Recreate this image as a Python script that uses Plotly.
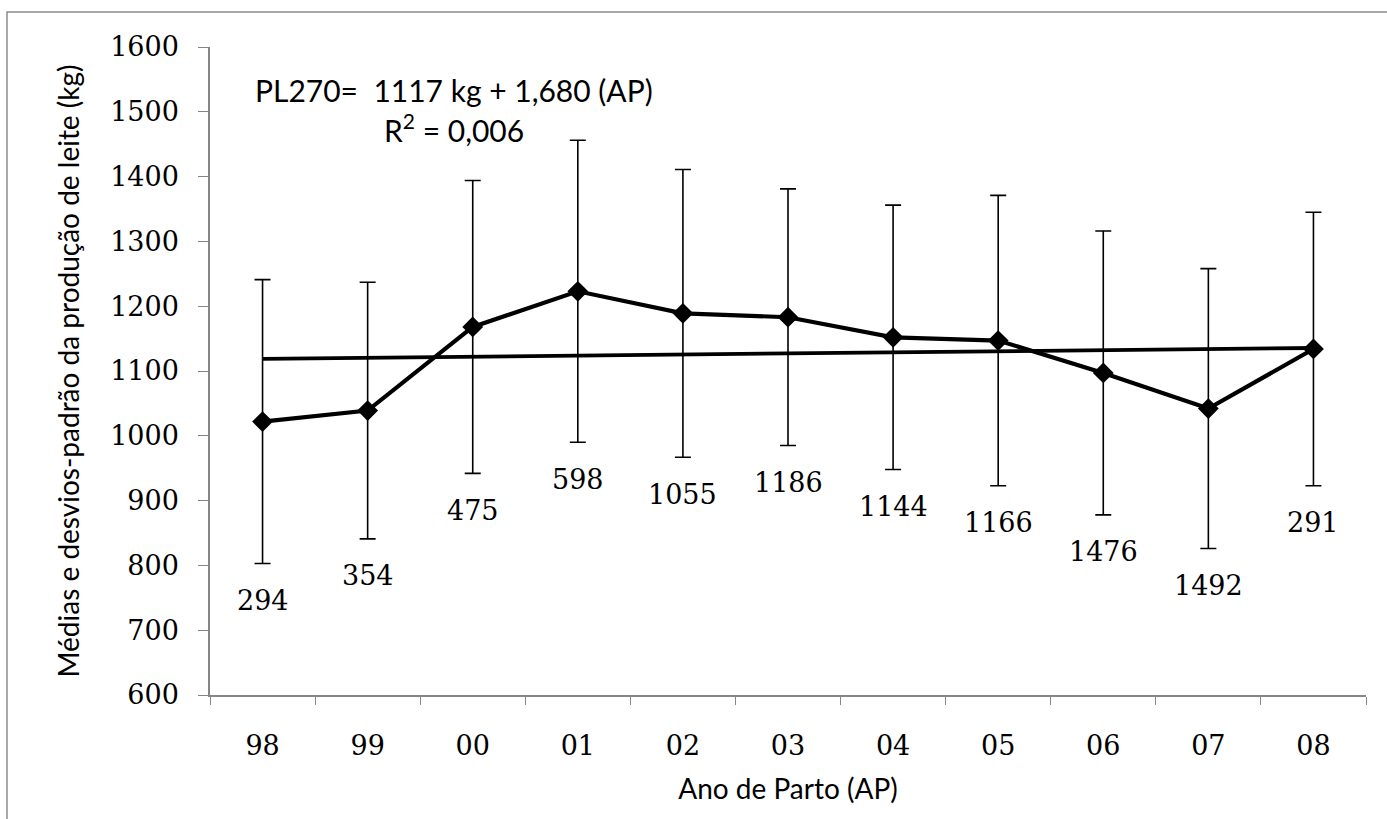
import plotly.graph_objects as go

years = ["98", "99", "00", "01", "02", "03", "04", "05", "06", "07", "08"]
means = [1022, 1039, 1168, 1223, 1189, 1183, 1152, 1147, 1097, 1042, 1134]
sds = [219, 198, 226, 233, 222, 198, 204, 224, 219, 216, 211]
counts = [294, 354, 475, 598, 1055, 1186, 1144, 1166, 1476, 1492, 291]
trend_intercept = 1117
trend_slope = 1.680
y_ticks = [600, 700, 800, 900, 1000, 1100, 1200, 1300, 1400, 1500, 1600]

trend = [trend_intercept + trend_slope * (i + 1) for i in range(len(years))]
lows = [m - s for m, s in zip(means, sds)]

SERIF = "DejaVu Serif"
SANS = "Lato"

fig = go.Figure()
fig.add_trace(go.Scatter(
    x=years, y=trend, mode="lines",
    line=dict(color="black", width=3.8), hoverinfo="skip", showlegend=False))
fig.add_trace(go.Scatter(
    x=years, y=means, mode="lines+markers",
    line=dict(color="black", width=4.2),
    marker=dict(symbol="diamond", size=16, color="black"),
    error_y=dict(type="data", array=sds, visible=True, color="black",
                 thickness=1.6, width=8),
    showlegend=False))

for i, (lo, n) in enumerate(zip(lows, counts)):
    fig.add_annotation(x=i, y=lo, text=str(n), showarrow=False,
                       yanchor="middle", yshift=-37,
                       font=dict(family=SERIF, size=27, color="black"))

fig.add_annotation(xref="paper", yref="paper", x=0.211, y=0.934,
                   text="PL270=  1117 kg + 1,680 (AP)", showarrow=False,
                   xanchor="center", yanchor="middle",
                   font=dict(family=SANS, size=30, color="black"))
fig.add_annotation(xref="paper", yref="paper", x=0.211, y=0.875,
                   text="R<sup>2</sup> = 0,006", showarrow=False,
                   xanchor="center", yanchor="middle",
                   font=dict(family=SANS, size=30, color="black"))

fig.update_layout(
    width=1387, height=819,
    margin=dict(l=210, r=21, t=47, b=124),
    paper_bgcolor="white", plot_bgcolor="white",
    font=dict(family=SERIF, color="black"),
    shapes=[dict(type="rect", xref="paper", yref="paper",
                 x0=-0.1756, x1=1.03, y0=-0.3, y1=1.054,
                 line=dict(color="#8c8c8c", width=1.5))],
)
fig.update_xaxes(
    type="category", tickson="boundaries", ticks="outside", ticklen=8,
    tickcolor="#868686", showline=True, linecolor="#868686", linewidth=1.5,
    showgrid=False, zeroline=False, range=[-0.5, 10.5],
    tickfont=dict(family=SERIF, size=27, color="black"),
    ticklabelstandoff=26,
    title=dict(text="Ano de Parto (AP)", font=dict(family=SANS, size=28, color="black"),
               standoff=19),
)
fig.update_yaxes(
    range=[600, 1600], tickvals=y_ticks, ticks="outside", ticklen=10,
    tickcolor="#868686", showline=True, linecolor="#868686", linewidth=1.5,
    showgrid=False, zeroline=False,
    tickfont=dict(family=SERIF, size=27, color="black"),
    ticklabelstandoff=14,
    title=dict(text="Médias e desvios-padrão da produção de leite (kg)",
               font=dict(family=SANS, size=28, color="black"), standoff=22),
)

fig.write_html("out.html")
